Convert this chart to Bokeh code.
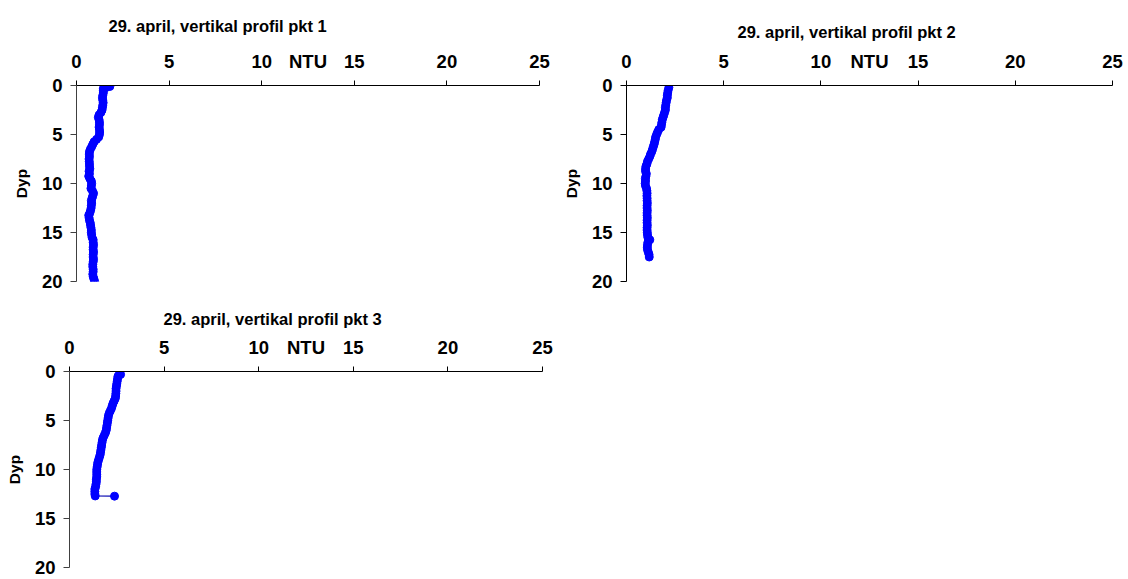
from bokeh.plotting import figure
from bokeh.models import Range1d, FixedTicker, LinearAxis, Title
from bokeh.layouts import row, column
from bokeh.embed import file_html
from bokeh.resources import INLINE

# ---------------- data ----------------
x_ticks = [0, 5, 10, 15, 20, 25]
y_ticks = [0, 5, 10, 15, 20]
x_label_pos = 12.5          # where the "NTU" unit label sits on the x scale

titles = ["29. april, vertikal profil pkt 1",
          "29. april, vertikal profil pkt 2",
          "29. april, vertikal profil pkt 3"]
x_label = "NTU"
y_label = "Dyp"

depth1 = [0.1, 0.2, 0.3, 0.5, 0.75, 1.0, 1.25, 1.5, 1.75, 2.0,
          2.25, 2.5, 2.75, 3.0, 3.25, 3.5, 3.75, 4.0, 4.25, 4.5,
          4.75, 5.0, 5.25, 5.5, 5.75, 6.0, 6.25, 6.5, 6.75, 7.0,
          7.25, 7.5, 7.75, 8.0, 8.25, 8.5, 8.75, 9.0, 9.25, 9.5,
          9.75, 10.0, 10.25, 10.5, 10.75, 11.0, 11.25, 11.5, 11.75, 12.0,
          12.25, 12.5, 12.75, 13.0, 13.25, 13.5, 13.75, 14.0, 14.25, 14.5,
          14.75, 15.0, 15.25, 15.5, 15.75, 16.0, 16.25, 16.5, 16.75, 17.0,
          17.25, 17.5, 17.75, 18.0, 18.25, 18.5, 18.75, 19.0, 19.25, 19.5,
          19.75, 20.0]
ntu1 = [1.8, 1.6, 1.45, 1.45, 1.45, 1.42, 1.4, 1.42, 1.44, 1.42,
        1.4, 1.38, 1.32, 1.22, 1.18, 1.22, 1.24, 1.24, 1.22, 1.24,
        1.25, 1.24, 1.2, 1.08, 0.95, 0.88, 0.82, 0.75, 0.7, 0.69,
        0.7, 0.68, 0.69, 0.7, 0.7, 0.72, 0.68, 0.7, 0.66, 0.72,
        0.8, 0.82, 0.8, 0.78, 0.86, 0.92, 0.88, 0.84, 0.8, 0.82,
        0.8, 0.79, 0.76, 0.72, 0.66, 0.68, 0.7, 0.74, 0.76, 0.78,
        0.8, 0.8, 0.82, 0.84, 0.9, 0.9, 0.92, 0.9, 0.9, 0.92,
        0.9, 0.9, 0.92, 0.9, 0.88, 0.88, 0.9, 0.9, 0.88, 0.9,
        0.94, 0.98]

depth2 = [0.2, 0.5, 0.75, 1.0, 1.25, 1.5, 1.75, 2.0, 2.25, 2.5,
          2.75, 3.0, 3.25, 3.5, 3.75, 4.0, 4.25, 4.5, 4.75, 5.0,
          5.25, 5.5, 5.75, 6.0, 6.25, 6.5, 6.75, 7.0, 7.25, 7.5,
          7.75, 8.0, 8.25, 8.5, 8.75, 9.0, 9.25, 9.5, 9.75, 10.0,
          10.25, 10.5, 10.75, 11.0, 11.25, 11.5, 11.75, 12.0, 12.25, 12.5,
          12.75, 13.0, 13.25, 13.5, 13.75, 14.0, 14.25, 14.5, 14.75, 15.0,
          15.25, 15.5, 15.75, 16.0, 16.25, 16.5, 16.75, 17.0, 17.25, 17.5]
ntu2 = [2.18, 2.14, 2.12, 2.1, 2.1, 2.06, 2.04, 2.02, 2.0, 2.0,
        1.96, 1.92, 1.88, 1.84, 1.82, 1.8, 1.78, 1.66, 1.6, 1.55,
        1.5, 1.48, 1.45, 1.42, 1.38, 1.34, 1.3, 1.24, 1.2, 1.14,
        1.08, 1.05, 1.0, 0.98, 0.98, 1.02, 1.0, 0.97, 0.98, 0.96,
        0.98, 1.03, 1.05, 1.06, 1.05, 1.06, 1.06, 1.07, 1.06, 1.06,
        1.07, 1.06, 1.06, 1.07, 1.06, 1.06, 1.07, 1.06, 1.06, 1.07,
        1.08, 1.1, 1.2, 1.1, 1.08, 1.07, 1.08, 1.12, 1.16, 1.17]

depth3 = [0.3, 0.4, 0.5, 0.75, 1.0, 1.25, 1.5, 1.75, 2.0, 2.25,
          2.5, 2.75, 3.0, 3.25, 3.5, 3.75, 4.0, 4.25, 4.5, 4.75,
          5.0, 5.25, 5.5, 5.75, 6.0, 6.25, 6.5, 6.75, 7.0, 7.25,
          7.5, 7.75, 8.0, 8.25, 8.5, 8.75, 9.0, 9.25, 9.5, 9.75,
          10.0, 10.25, 10.5, 10.75, 11.0, 11.25, 11.5, 11.75, 12.0, 12.25,
          12.5, 12.7, 12.72]
ntu3 = [2.7, 2.6, 2.56, 2.54, 2.52, 2.5, 2.48, 2.46, 2.46, 2.45,
        2.44, 2.42, 2.36, 2.3, 2.26, 2.22, 2.16, 2.1, 2.06, 2.04,
        2.02, 2.0, 1.98, 1.96, 1.94, 1.9, 1.84, 1.78, 1.74, 1.72,
        1.7, 1.68, 1.66, 1.64, 1.62, 1.58, 1.54, 1.5, 1.48, 1.46,
        1.44, 1.44, 1.44, 1.44, 1.42, 1.42, 1.4, 1.38, 1.34, 1.34,
        1.34, 1.36, 2.38]

FONT = "Liberation Sans"
BLUE = "#0000FF"
TICK_FS = "18.5px"


def make_panel(depth, ntu, title, width, height, bl, br, bt, bb,
               title_offset, title_standoff, yaxis_color):
    p = figure(width=width, height=height, output_backend="svg",
               toolbar_location=None, x_axis_location="above",
               x_range=Range1d(0, 25), y_range=Range1d(20, 0),
               min_border_left=bl, min_border_right=br,
               min_border_top=bt, min_border_bottom=bb)
    p.outline_line_color = None
    p.grid.visible = False
    p.background_fill_color = "white"
    p.border_fill_color = "white"

    # axis next to the frame: line + outward tick marks only (labels hidden)
    xa = p.xaxis[0]
    xa.ticker = FixedTicker(ticks=x_ticks)
    xa.minor_tick_line_color = None
    xa.major_tick_in = 0
    xa.major_tick_out = 5
    xa.major_label_standoff = 0
    xa.major_label_text_font_size = "1px"
    xa.major_label_text_color = None
    xa.axis_line_color = "black"
    xa.major_tick_line_color = "black"

    # label row above it: tick numbers plus the "NTU" unit in between
    label_ticks = sorted(x_ticks + [x_label_pos])
    overrides = {t: (x_label if t == x_label_pos else str(t)) for t in label_ticks}
    xb = LinearAxis(ticker=FixedTicker(ticks=label_ticks),
                    major_label_overrides=overrides,
                    axis_line_color=None, major_tick_line_color=None,
                    minor_tick_line_color=None,
                    major_tick_in=0, major_tick_out=0,
                    major_label_standoff=9,
                    major_label_text_font=FONT,
                    major_label_text_font_style="bold",
                    major_label_text_font_size=TICK_FS,
                    major_label_text_color="black")
    p.add_layout(xb, "above")

    ya = p.yaxis[0]
    ya.ticker = FixedTicker(ticks=y_ticks)
    ya.minor_tick_line_color = None
    ya.major_tick_in = 0
    ya.major_tick_out = 6
    ya.major_label_standoff = 8
    ya.axis_line_color = yaxis_color
    ya.major_tick_line_color = yaxis_color
    ya.major_label_text_font = FONT
    ya.major_label_text_font_style = "bold"
    ya.major_label_text_font_size = TICK_FS
    ya.major_label_text_color = "black"
    ya.axis_label = y_label
    ya.axis_label_text_font = FONT
    ya.axis_label_text_font_style = "bold"
    ya.axis_label_text_font_size = "15.5px"
    ya.axis_label_text_color = "black"
    ya.axis_label_standoff = 9

    p.title = Title(text=title, align="left", offset=title_offset,
                    text_font=FONT, text_font_style="bold",
                    text_font_size="16.5px", text_color="black",
                    standoff=title_standoff)

    p.line(ntu, depth, line_color="#0000B0", line_width=1.2)
    p.scatter(ntu, depth, size=8, marker="circle",
              fill_color=BLUE, line_color=BLUE)
    return p


p1 = make_panel(depth1, ntu1, titles[0], 559, 295, 76, 20, 85, 14,
                32, 25, "#404040")
p2 = make_panel(depth2, ntu2, titles[1], 569, 295, 67, 16, 84, 11,
                111, 14, "black")
p3 = make_panel(depth3, ntu3, titles[2], 562, 284, 69, 20, 76, 12,
                94, 12, "#404040")

layout = column(row(p1, p2), p3)

open("out.html", "w").write(file_html(layout, INLINE))
